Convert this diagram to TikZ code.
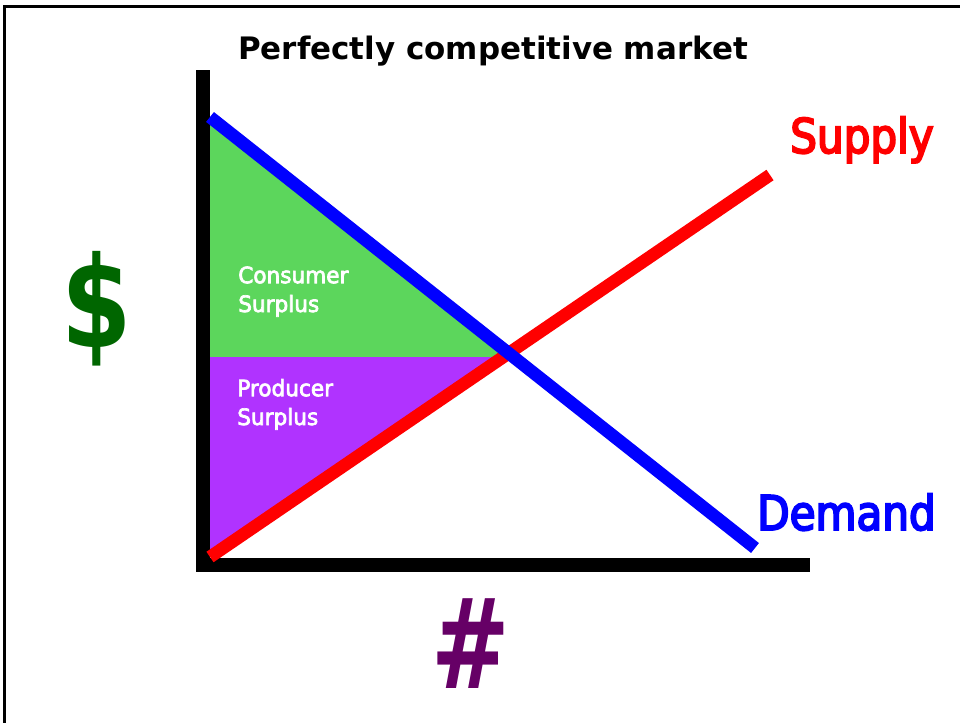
\documentclass[tikz,border=0pt]{standalone}
\usepackage{fontspec}
\usepackage{graphicx}
\setmainfont{DejaVu Sans}
\newfontfamily\narrowsans[FakeStretch=0.88,FakeBold=4]{DejaVu Sans}
\newfontfamily\labelsans[FakeStretch=0.96,FakeBold=3]{DejaVu Sans}
\definecolor{csgreen}{RGB}{92,214,92}
\definecolor{pspurple}{RGB}{176,51,255}
\definecolor{dollargreen}{RGB}{0,102,0}
\definecolor{hashpurple}{RGB}{102,0,102}
\tikzset{
  axisline/.style={line width=10pt,line join=miter},
  curveline/.style={line width=9pt},
  arealabel/.style={text=white,font=\labelsans\fontsize{16}{20.5}\selectfont,align=left,anchor=base west,inner sep=0pt},
  curvelabel/.style={font=\narrowsans\fontsize{34}{40}\selectfont,anchor=base west,inner sep=0pt}
}
\begin{document}
\begin{tikzpicture}[x=0.025cm,y=-0.025cm]
   \useasboundingbox (0,0) rectangle (960,723);
   \draw[line width=2.2pt] (4.5,723) -- (4.5,6.5) -- (960,6.5);

   % surplus areas
   \coordinate (dtop) at (210,117);
   \coordinate (sbot) at (210,557);
   \coordinate (peq) at (210,357);
   \coordinate (eq) at (505,357);
   \fill[csgreen] (dtop) -- (peq) -- (eq) -- cycle;
   \fill[pspurple] (peq) -- (eq) -- (sbot) -- cycle;

   % axes
   \draw[axisline] (203,70) -- (203,565) -- (810,565);

   % supply and demand
   \coordinate (stop) at (770,175);
   \coordinate (dbot) at (755,548);
   \draw[curveline,red] (sbot) -- (stop);
   \draw[curveline,blue] (dtop) -- (dbot);

   \node[font=\bfseries\fontsize{22}{26}\selectfont,anchor=base west,inner sep=0pt] (title) at (238,59) {Perfectly competitive market};
   \node[arealabel] (cs) at (238,312) {Consumer\\Surplus};
   \node[arealabel] (ps) at (237,425) {Producer\\Surplus};
   \node[curvelabel,text=red] (supply) at (790,153) {Supply};
   \node[curvelabel,text=blue] (demand) at (757,530) {Demand};
   \node[font=\bfseries\fontsize{90}{96}\selectfont,text=dollargreen,inner sep=0pt] (price) at (97,309) {\scalebox{0.8}[1]{\$}};
   \node[font=\bfseries\fontsize{89}{90}\selectfont,text=hashpurple,inner sep=0pt] (qty) at (471,644) {\scalebox{0.75}[1]{\#}};
\end{tikzpicture}
\end{document}
